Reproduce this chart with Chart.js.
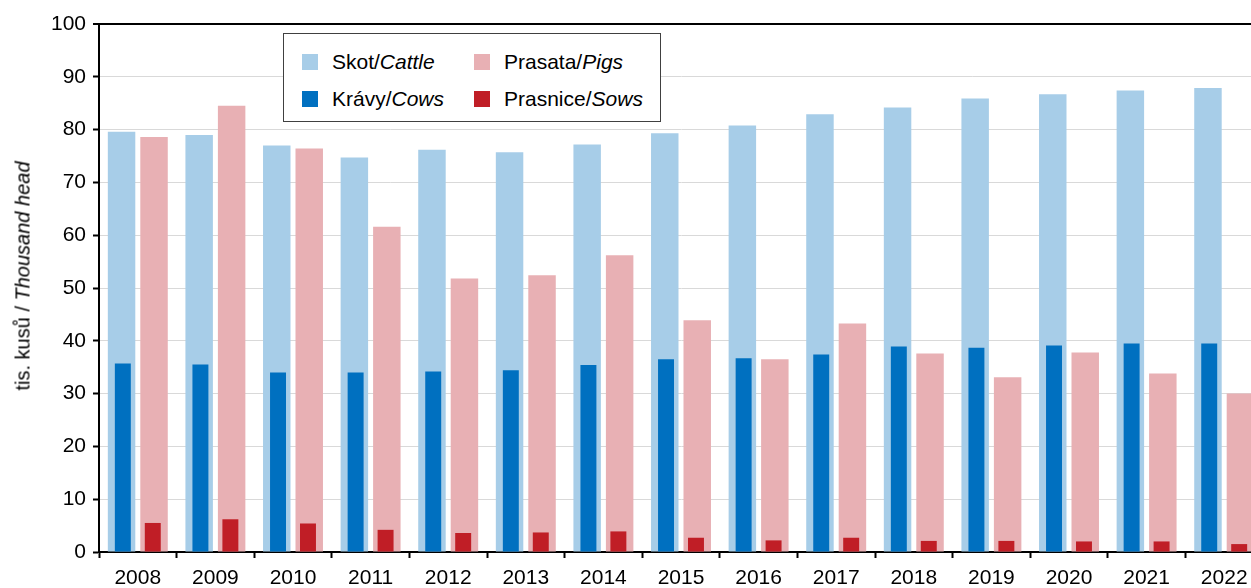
<!DOCTYPE html>
<html>
<head>
<meta charset="utf-8">
<script src="https://cdn.jsdelivr.net/npm/chart.js@4.4.1/dist/chart.umd.min.js"></script>
<style>
body{margin:0;overflow:hidden;background:#fff;font-family:"Liberation Sans",Arial,sans-serif;}
#wrap{position:relative;width:1290px;height:588px;}
#legend{position:absolute;left:283px;top:33px;width:378px;height:89px;box-sizing:border-box;border:1.5px solid #404040;background:#fff;}
.sw{position:absolute;width:16px;height:16px;}
.txt{position:absolute;font-size:21px;line-height:24px;color:#000;white-space:nowrap;}
#ytitle{position:absolute;left:23px;top:276px;transform:translate(-50%,-50%) rotate(-90deg);font-size:20px;white-space:nowrap;color:#000;}
</style>
</head>
<body>
<div id="wrap">
    <canvas id="chart" width="1290" height="588"></canvas>
    <div id="ytitle">tis. kusů / <i>Thousand head</i></div>
    <div id="legend">
        <div class="sw" style="left:18px;top:20px;background:#a7cde8"></div>
        <div class="txt" style="left:48px;top:16px">Skot/<i>Cattle</i></div>
        <div class="sw" style="left:190px;top:20px;background:#e8b0b4"></div>
        <div class="txt" style="left:220px;top:16px">Prasata/<i>Pigs</i></div>
        <div class="sw" style="left:18px;top:57px;background:#0070c0"></div>
        <div class="txt" style="left:48px;top:53px">Krávy/<i>Cows</i></div>
        <div class="sw" style="left:190px;top:57px;background:#c01e26"></div>
        <div class="txt" style="left:220px;top:53px">Prasnice/<i>Sows</i></div>
    </div>
</div>
<script>
// stavy zvirat, tis. kusu
const years=["2008","2009","2010","2011","2012","2013","2014","2015","2016","2017","2018","2019","2020","2021","2022"];
const cattle=[79.6,79.0,77.0,74.7,76.2,75.7,77.2,79.3,80.8,82.9,84.2,85.9,86.7,87.4,87.9];
const cows=[35.7,35.5,34.0,34.0,34.2,34.4,35.4,36.5,36.7,37.4,38.9,38.7,39.1,39.5,39.5];
const pigs=[78.6,84.5,76.4,61.6,51.8,52.4,56.2,43.9,36.5,43.3,37.6,33.1,37.8,33.8,30.0];
const sows=[5.5,6.2,5.4,4.2,3.6,3.7,3.9,2.7,2.2,2.7,2.1,2.1,2.0,2.0,1.5];

const font={family:'"Liberation Sans", Arial, sans-serif',size:21};

const ctx=document.getElementById("chart").getContext("2d");
new Chart(ctx,{
    type:"bar",
    data:{
        labels:years,
        datasets:[
            // narrow bars first so they are drawn on top
            {label:"Krávy/Cows",data:cows,backgroundColor:"#0070c0",stack:"skot",order:0,categoryPercentage:0.772,barPercentage:0.533},
            {label:"Prasnice/Sows",data:sows,backgroundColor:"#c01e26",stack:"prasata",order:0,categoryPercentage:0.772,barPercentage:0.533},
            {label:"Skot/Cattle",data:cattle,backgroundColor:"#a7cde8",stack:"skot",order:1,categoryPercentage:0.837,barPercentage:0.846},
            {label:"Prasata/Pigs",data:pigs,backgroundColor:"#e8b0b4",stack:"prasata",order:1,categoryPercentage:0.837,barPercentage:0.846}
        ]
    },
    options:{
        responsive:false,
        animation:false,
        layout:{padding:{left:0,top:24,right:27,bottom:0}},
        plugins:{legend:{display:false},tooltip:{enabled:false}},
        scales:{
            x:{
                offset:true,
                afterFit:function(s){s.height=36;},
                border:{color:"#000",width:2},
                grid:{offset:true,drawOnChartArea:false,drawTicks:true,tickLength:6,tickColor:"#000",tickWidth:2},
                ticks:{color:"#000",font:font,padding:8,maxRotation:0}
            },
            y:{
                stacked:false,
                min:0,
                max:100,
                afterFit:function(s){s.width=99;},
                border:{color:"#000",width:2},
                grid:{
                    color:function(c){return c.tick&&c.tick.value===100?"#000":"#d9d9d9";},
                    lineWidth:function(c){return c.tick&&c.tick.value===100?2:1;},
                    tickLength:6,
                    tickColor:"#000",
                    tickWidth:2
                },
                ticks:{stepSize:10,color:"#000",font:font,padding:7}
            }
        }
    }
});
</script>
</body>
</html>
